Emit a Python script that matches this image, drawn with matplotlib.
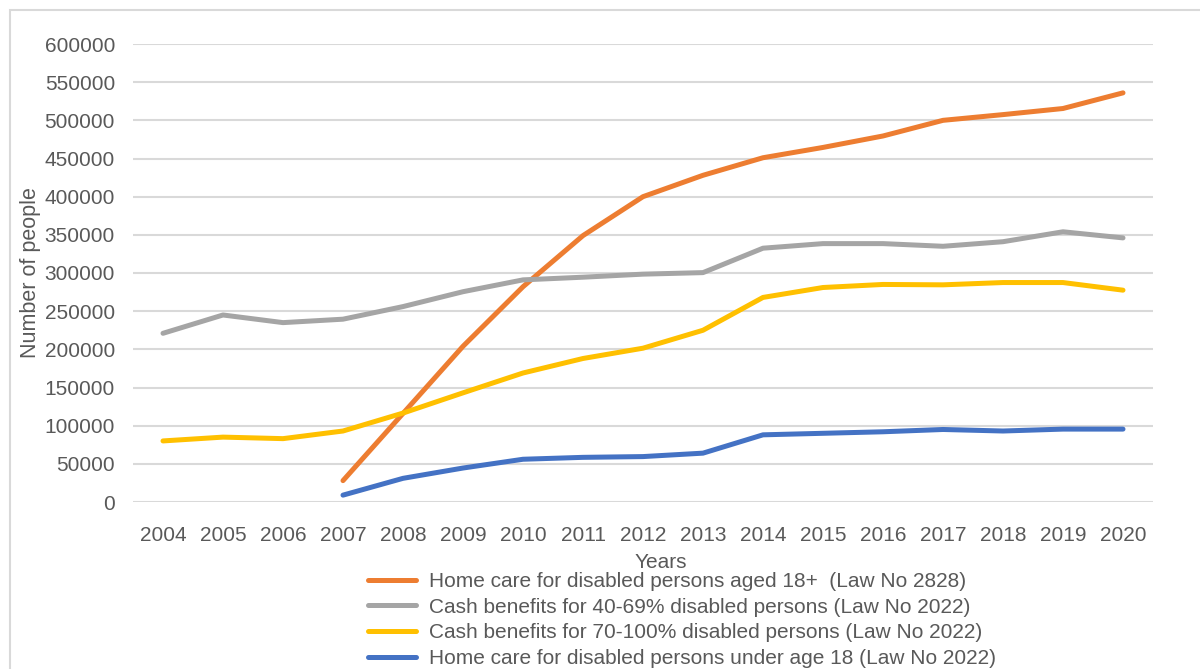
import numpy as np
import matplotlib
matplotlib.use("Agg")
import matplotlib.pyplot as plt
from matplotlib.patches import Rectangle

plt.rcParams['font.family'] = ['Liberation Sans', 'DejaVu Sans']

years = [2004, 2005, 2006, 2007, 2008, 2009, 2010, 2011, 2012,
         2013, 2014, 2015, 2016, 2017, 2018, 2019, 2020]
nan = np.nan

home_care_18 = [nan, nan, nan, 28000, 116000, 204000, 282000, 349000, 400000,
                428000, 451000, 464500, 479500, 500000, 507500, 515500, 536000]
cash_40_69 = [221000, 245000, 235000, 239500, 256000, 275500, 291000, 294500, 298500,
              300500, 332500, 338500, 338500, 335000, 341000, 354000, 346000]
cash_70_100 = [80000, 85000, 83000, 93000, 116500, 143000, 169000, 188000, 201500,
               225000, 268000, 281000, 285000, 284500, 287500, 287500, 277500]
home_care_u18 = [nan, nan, nan, 9000, 31000, 44500, 56000, 58500, 59500,
                 64000, 88000, 90000, 92000, 95000, 93000, 95500, 95500]

labels = ["Home care for disabled persons aged 18+  (Law No 2828)",
          "Cash benefits for 40-69% disabled persons (Law No 2022)",
          "Cash benefits for 70-100% disabled persons (Law No 2022)",
          "Home care for disabled persons under age 18 (Law No 2022)"]
colors = ["#ED7D31", "#A5A5A5", "#FFC000", "#4472C4"]

fig = plt.figure(figsize=(12, 6.69), dpi=100)
ax = fig.add_axes([133/1200, 1-502/669, 1020/1200, 458/669])

x = np.arange(len(years))
series = [home_care_18, cash_40_69, cash_70_100, home_care_u18]
for s, lab, c in zip(series, labels, colors):
    ax.plot(x, s, color=c, lw=3.6, label=lab, solid_capstyle='round', solid_joinstyle='round')

ax.set_xlim(-0.5, len(years)-0.5)
ax.set_ylim(0, 600000)
ax.set_yticks(np.arange(0, 600001, 50000))
ax.set_xticks(x)
ax.set_xticklabels([str(y) for y in years])
ax.yaxis.grid(True, color="#D9D9D9", lw=1.5)
ax.set_axisbelow(True)
for sp in ax.spines.values():
    sp.set_visible(False)
ax.tick_params(length=0, labelsize=15, colors="#595959")
ax.tick_params(axis='x', pad=17)
ax.tick_params(axis='y', pad=13)

ax.set_xlabel("Years", fontsize=15, color="#595959")
ax.xaxis.set_label_coords(528/1020, -51/458)
ax.set_ylabel("Number of people", fontsize=15.5, color="#595959")
ax.yaxis.set_label_coords(-92/1020, 0.5)

leg = fig.legend(loc='upper left', bbox_to_anchor=(368/1200, 1-572/669), frameon=False,
                 fontsize=15, handlelength=2.3, handletextpad=0.65, labelspacing=0.32,
                 borderpad=0, borderaxespad=0)
for t in leg.get_texts():
    t.set_color("#595959")

fig.add_artist(Rectangle((10/1200, -0.1), 1.2, (669-10)/669+0.1, transform=fig.transFigure,
                         fill=False, edgecolor="#D9D9D9", lw=1.5))

fig.savefig("out.png", dpi=100)
